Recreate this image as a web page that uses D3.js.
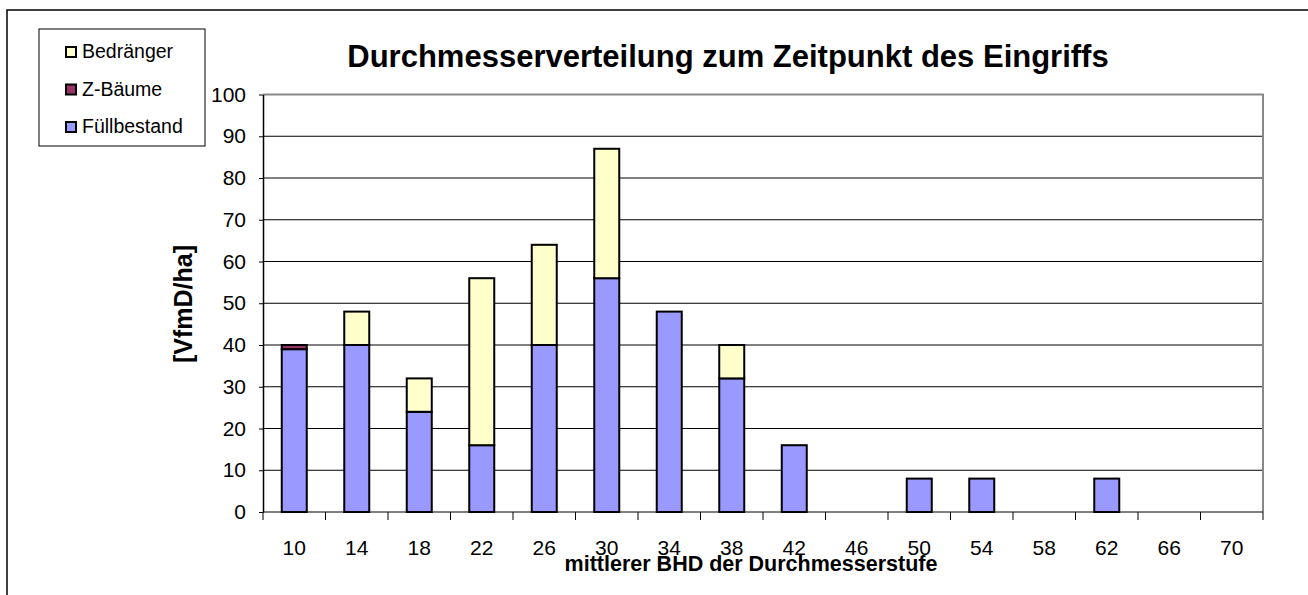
<!DOCTYPE html>
<html>
<head>
  <title>Durchmesserverteilung</title>
  <script src="https://d3js.org/d3.v7.min.js"></script>
  <style>
    body { margin: 0; background: #fff; font-family: "Liberation Sans", Arial, sans-serif; }
  </style>
</head>
<body>
  <div id="chart"></div>
  <script>
    // data
    let categories = ['10', '14', '18', '22', '26', '30', '34', '38', '42', '46', '50', '54', '58', '62', '66', '70'];
    let fuellbestand = [39, 40, 24, 16, 40, 56, 48, 32, 16, 0, 8, 8, 0, 8, 0, 0];
    let zBaeume = [1, 0, 0, 0, 0, 0, 0, 0, 0, 0, 0, 0, 0, 0, 0, 0];
    let bedraenger = [0, 8, 8, 40, 24, 31, 0, 8, 0, 0, 0, 0, 0, 0, 0, 0];
    let yTicks = [0, 10, 20, 30, 40, 50, 60, 70, 80, 90, 100];

    let seriesInfo = [
      { key: 'fuell', name: 'Füllbestand', color: '#9999ff', values: fuellbestand },
      { key: 'z', name: 'Z-Bäume', color: '#993366', values: zBaeume },
      { key: 'bed', name: 'Bedränger', color: '#ffffcc', values: bedraenger }
    ];

    let width = 1308, height = 595;
    let margin = { top: 94.5, right: 45, bottom: 83, left: 263 };
    let innerW = width - margin.left - margin.right;
    let innerH = height - margin.top - margin.bottom;

    let svg = d3.select('#chart').append('svg')
      .attr('width', width)
      .attr('height', height);

    // outer chart border (runs past the right and bottom edge)
    svg.append('rect')
      .attr('x', 7).attr('y', 10)
      .attr('width', 1320).attr('height', 620)
      .attr('fill', 'none').attr('stroke', '#000').attr('stroke-width', 1.5);

    let g = svg.append('g')
      .attr('transform', 'translate(' + margin.left + ',' + margin.top + ')');

    let x = d3.scaleBand().domain(categories).range([0, innerW]).paddingInner(0.6).paddingOuter(0.3);
    let y = d3.scaleLinear().domain([0, 100]).range([innerH, 0]);

    // gridlines
    g.selectAll('.grid')
      .data(yTicks.filter(t => t > 0 && t < 100))
      .enter().append('line')
      .attr('x1', 0).attr('x2', innerW)
      .attr('y1', d => y(d)).attr('y2', d => y(d))
      .attr('stroke', '#000').attr('stroke-width', 1);

    // plot area border (top, right)
    g.append('path')
      .attr('d', 'M0,' + y(100) + 'H' + innerW + 'V' + y(0))
      .attr('fill', 'none').attr('stroke', '#888').attr('stroke-width', 2);

    // stacked bars
    let table = categories.map((c, i) => ({ cat: c, fuell: fuellbestand[i], z: zBaeume[i], bed: bedraenger[i] }));
    let stack = d3.stack().keys(seriesInfo.map(s => s.key));
    let stacked = stack(table);

    stacked.forEach((layer, li) => {
      g.selectAll('.bar' + li)
        .data(layer.filter(d => d[1] - d[0] > 0))
        .enter().append('rect')
        .attr('x', d => x(d.data.cat))
        .attr('y', d => y(d[1]))
        .attr('width', x.bandwidth())
        .attr('height', d => y(d[0]) - y(d[1]))
        .attr('fill', seriesInfo[li].color)
        .attr('stroke', '#000')
        .attr('stroke-width', 2);
    });

    // x axis: ticks between categories
    let tickPos = d3.range(categories.length + 1).map(i => i * innerW / categories.length);
    g.append('line')
      .attr('x1', 0).attr('x2', innerW)
      .attr('y1', innerH).attr('y2', innerH)
      .attr('stroke', '#000').attr('stroke-width', 1);
    g.selectAll('.xtick')
      .data(tickPos)
      .enter().append('line')
      .attr('x1', d => d).attr('x2', d => d)
      .attr('y1', innerH).attr('y2', innerH + 8)
      .attr('stroke', '#000').attr('stroke-width', 1);
    g.selectAll('.xlab')
      .data(categories)
      .enter().append('text')
      .attr('x', d => x(d) + x.bandwidth() / 2)
      .attr('y', innerH + 43)
      .attr('text-anchor', 'middle')
      .style('font-size', '21px')
      .text(d => d);

    // y axis
    let yAxis = g.append('g')
      .call(d3.axisLeft(y).tickValues(yTicks).tickSize(4).tickSizeOuter(0).tickPadding(13));
    yAxis.select('.domain').attr('stroke', '#000').attr('stroke-width', 1.5);
    yAxis.selectAll('text').style('font-size', '21px').style('font-family', '"Liberation Sans", Arial, sans-serif').attr('fill', '#000');

    // title
    svg.append('text')
      .attr('x', 728).attr('y', 67)
      .attr('text-anchor', 'middle')
      .style('font-size', '31px').style('font-weight', 'bold')
      .text('Durchmesserverteilung zum Zeitpunkt des Eingriffs');

    // axis titles
    svg.append('text')
      .attr('transform', 'translate(192,304) rotate(-90)')
      .attr('text-anchor', 'middle')
      .style('font-size', '25px').style('font-weight', 'bold')
      .text('[VfmD/ha]');

    svg.append('text')
      .attr('x', 751).attr('y', 571)
      .attr('text-anchor', 'middle')
      .style('font-size', '21.5px').style('font-weight', 'bold')
      .text('mittlerer BHD der Durchmesserstufe');

    // legend
    let legend = svg.append('g');
    legend.append('rect')
      .attr('x', 39).attr('y', 29).attr('width', 166).attr('height', 117)
      .attr('fill', '#fff').attr('stroke', '#000').attr('stroke-width', 1);
    let legendItems = seriesInfo.slice().reverse();
    legend.selectAll('.li')
      .data(legendItems)
      .enter().append('rect')
      .attr('x', 66).attr('y', (d, i) => 47 + i * 37.5)
      .attr('width', 10).attr('height', 10)
      .attr('fill', d => d.color).attr('stroke', '#000').attr('stroke-width', 2);
    legend.selectAll('.lt')
      .data(legendItems)
      .enter().append('text')
      .attr('x', 82).attr('y', (d, i) => 58 + i * 37.5)
      .style('font-size', '19.5px')
      .text(d => d.name);
  </script>
</body>
</html>
